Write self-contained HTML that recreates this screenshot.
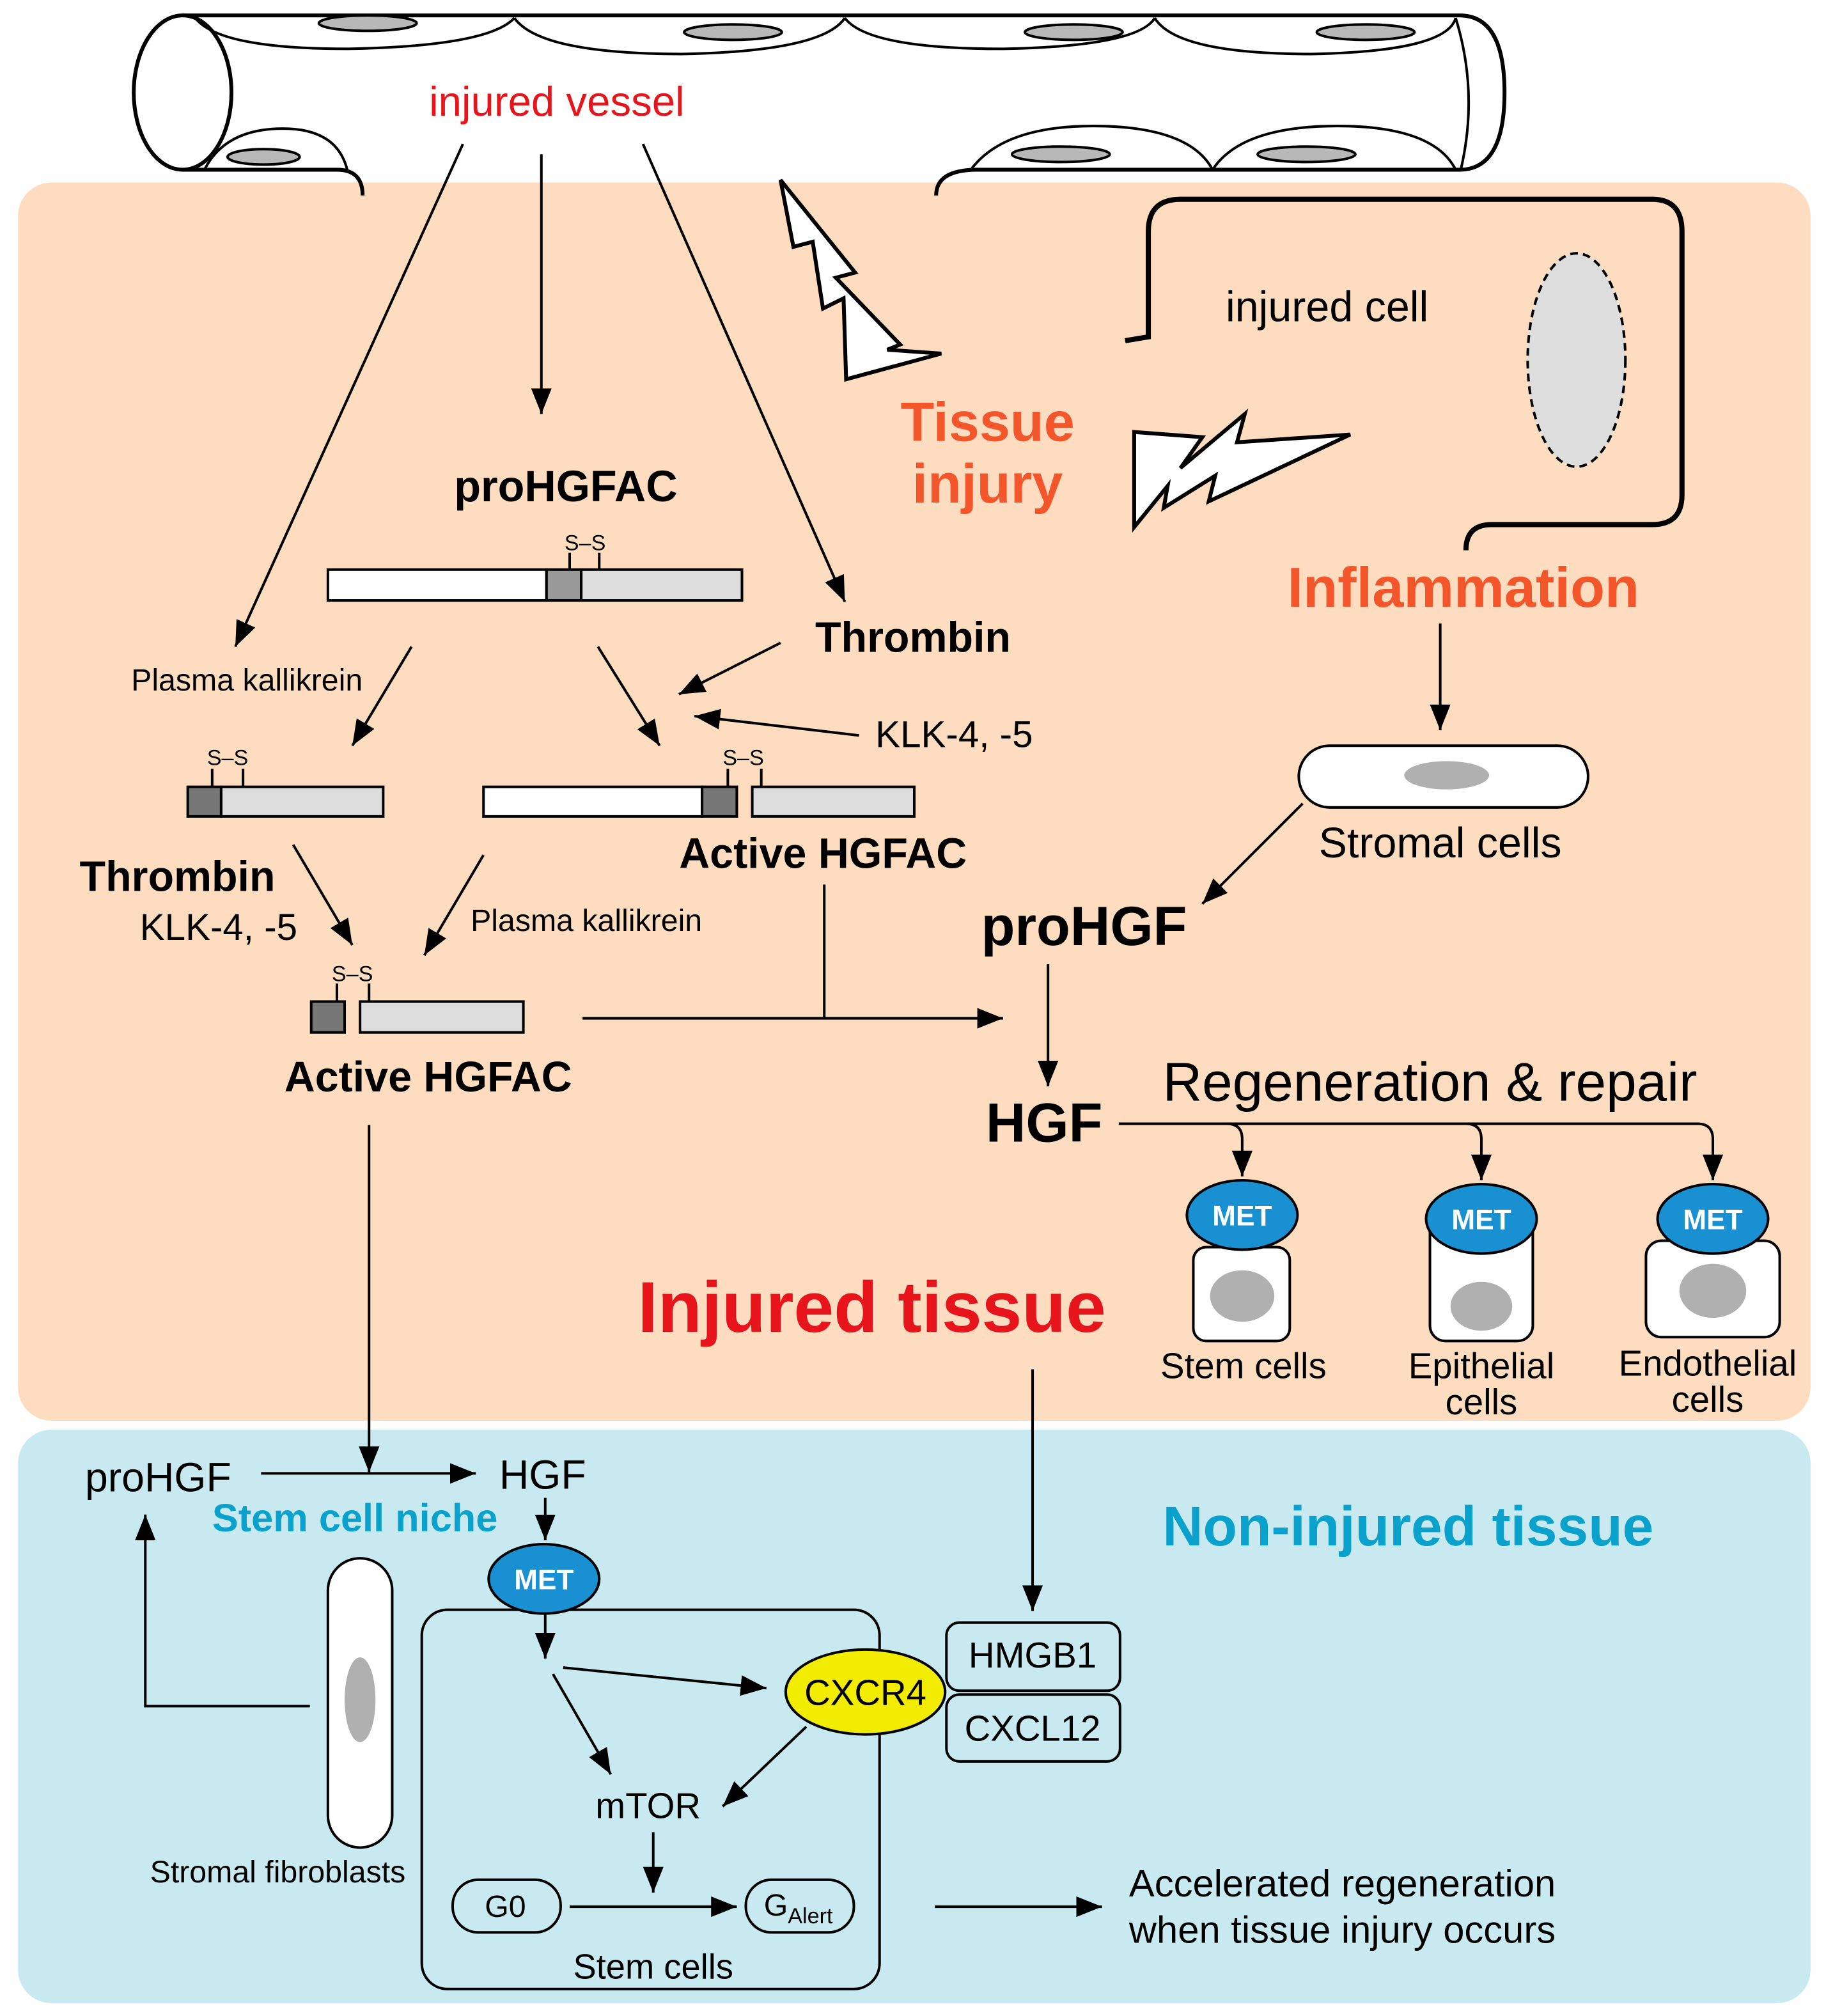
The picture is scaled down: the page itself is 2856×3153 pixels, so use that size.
<!DOCTYPE html>
<html><head><meta charset="utf-8"><style>
html,body{margin:0;padding:0;background:#fff}
svg{display:block}
text{font-family:"Liberation Sans",Arial,sans-serif}
</style></head><body>
<svg width="2856" height="3153" viewBox="0 0 1420 1568" preserveAspectRatio="none" xmlns="http://www.w3.org/2000/svg">
<defs>
<marker id="b" viewBox="0 0 10 10" refX="10" refY="5" markerWidth="20" markerHeight="20" markerUnits="userSpaceOnUse" orient="auto"><path d="M0,1 L10,5 L0,9 z" fill="#000"/></marker>
</defs>
<rect x="0" y="0" width="1420" height="1568" fill="#fff"/>
<rect x="14" y="142" width="1394" height="963" rx="26" fill="#fddcbf"/>
<rect x="14" y="1112" width="1394" height="446" rx="26" fill="#c9e9f1"/>

<!-- vessel -->
<path d="M142,12 L1135,12 Q1170,12 1170,72 Q1170,132 1135,132 L760,132 Q728,132 728,152" fill="none" stroke="#000" stroke-width="3"/>
<path d="M142,132 L262,132 Q282,132 282,152" fill="none" stroke="#000" stroke-width="3"/>
<path d="M1132,14 Q1150,72 1136,132" fill="none" stroke="#000" stroke-width="2"/>
<ellipse cx="142" cy="72" rx="38" ry="60" fill="#fff" stroke="#000" stroke-width="3"/>
<g fill="none" stroke="#000" stroke-width="2">
<path d="M152,14 Q170,38 270,38 Q380,36 400,14"/>
<path d="M400,14 Q420,42 530,42 Q640,40 657,14"/>
<path d="M657,14 Q675,38 780,38 Q885,36 898,14"/>
<path d="M898,14 Q915,42 1020,42 Q1125,40 1132,14"/>
<path d="M159,132 Q175,100 220,100 Q262,100 270,132"/>
<path d="M755,132 Q780,98 850,98 Q925,98 943,132"/>
<path d="M943,132 Q965,98 1040,98 Q1115,98 1132,132"/>
</g>
<g fill="#b8b8b8" stroke="#000" stroke-width="2">
<ellipse cx="286" cy="18" rx="38" ry="6"/>
<ellipse cx="570" cy="25" rx="38" ry="6"/>
<ellipse cx="835" cy="25" rx="38" ry="6"/>
<ellipse cx="1062" cy="25" rx="38" ry="6"/>
<ellipse cx="205" cy="122" rx="28" ry="6"/>
<ellipse cx="825" cy="120" rx="38" ry="6"/>
<ellipse cx="1016" cy="120" rx="38" ry="6"/>
</g>
<text x="433" y="90" font-size="32.5" fill="#e8141b" text-anchor="middle">injured vessel</text>

<!-- bolts -->
<polygon points="607,140 665,212 650,216 700,268 690,272 732,275 658,295 656,232 640,240 632,188 617,192" fill="#fff" stroke="#000" stroke-width="3"/>
<polygon points="882,410 882,336 935,340 918,364 968,322 962,344 1050,338 940,390 945,370 905,395 908,378" fill="#fff" stroke="#000" stroke-width="3"/>
<text x="768" y="343" font-size="43" font-weight="bold" fill="#f4562b" text-anchor="middle">Tissue</text>
<text x="768" y="391" font-size="43" font-weight="bold" fill="#f4562b" text-anchor="middle">injury</text>

<!-- injured cell -->
<path d="M875,265 L893,262 L893,180 Q893,155 918,155 L1285,155 Q1308,155 1308,180 L1308,385 Q1308,408 1285,408 L1160,408 Q1140,408 1140,428" fill="none" stroke="#000" stroke-width="4"/>
<ellipse cx="1226" cy="280" rx="38" ry="83" fill="#ddd" stroke="#000" stroke-width="2" stroke-dasharray="6,4"/>
<text x="1032" y="250" font-size="33" text-anchor="middle">injured cell</text>
<text x="1138" y="472" font-size="44" font-weight="bold" fill="#f4562b" text-anchor="middle">Inflammation</text>

<!-- proHGFAC -->
<text x="440" y="390" font-size="34" font-weight="bold" text-anchor="middle">proHGFAC</text>
<g stroke="#000" stroke-width="2">
<rect x="255" y="443" width="170" height="24" fill="#fff"/>
<rect x="425" y="443" width="27" height="24" fill="#999"/>
<rect x="452" y="443" width="125" height="24" fill="#ddd"/>
<line x1="443" y1="443" x2="443" y2="430"/><line x1="466" y1="443" x2="466" y2="430"/>
<rect x="146" y="612" width="26" height="23" fill="#777"/>
<rect x="172" y="612" width="126" height="23" fill="#ddd"/>
<line x1="165" y1="612" x2="165" y2="598"/><line x1="189" y1="612" x2="189" y2="598"/>
<rect x="376" y="612" width="170" height="23" fill="#fff"/>
<rect x="546" y="612" width="27" height="23" fill="#777"/>
<rect x="585" y="612" width="126" height="23" fill="#ddd"/>
<line x1="566" y1="612" x2="566" y2="598"/><line x1="592" y1="612" x2="592" y2="598"/>
<rect x="242" y="779" width="26" height="24" fill="#777"/>
<rect x="280" y="779" width="127" height="24" fill="#ddd"/>
<line x1="262" y1="779" x2="262" y2="765"/><line x1="287" y1="779" x2="287" y2="765"/>
</g>
<g font-size="17" text-anchor="middle"><text x="455" y="428">S–S</text><text x="177" y="595">S–S</text><text x="578" y="595">S–S</text><text x="274" y="763">S–S</text></g>

<text x="710" y="507" font-size="33" font-weight="bold" text-anchor="middle">Thrombin</text>
<text x="192" y="537" font-size="24" text-anchor="middle">Plasma kallikrein</text>
<text x="742" y="581" font-size="29" text-anchor="middle">KLK-4, -5</text>
<text x="640" y="675" font-size="33" font-weight="bold" text-anchor="middle">Active HGFAC</text>
<text x="138" y="693" font-size="33" font-weight="bold" text-anchor="middle">Thrombin</text>
<text x="170" y="731" font-size="29" text-anchor="middle">KLK-4, -5</text>
<text x="456" y="724" font-size="24" text-anchor="middle">Plasma kallikrein</text>
<text x="333" y="849" font-size="33" font-weight="bold" text-anchor="middle">Active HGFAC</text>

<text x="1120" y="667" font-size="33" text-anchor="middle">Stromal cells</text>
<rect x="1010" y="580" width="225" height="48" rx="24" fill="#fff" stroke="#000" stroke-width="2"/>
<ellipse cx="1125" cy="603" rx="33" ry="11" fill="#b0b0b0"/>
<text x="843" y="735" font-size="43" font-weight="bold" text-anchor="middle">proHGF</text>
<text x="812" y="888" font-size="43" font-weight="bold" text-anchor="middle">HGF</text>
<text x="1112" y="856" font-size="42.5" text-anchor="middle">Regeneration &amp; repair</text>
<text x="678" y="1036" font-size="56" font-weight="bold" fill="#e8141b" text-anchor="middle">Injured tissue</text>

<!-- arrows top -->
<g stroke="#000" stroke-width="2" fill="none">
<line x1="360" y1="112" x2="183" y2="503" marker-end="url(#b)"/>
<line x1="421" y1="120" x2="421" y2="322" marker-end="url(#b)"/>
<line x1="500" y1="112" x2="657" y2="468" marker-end="url(#b)"/>
<line x1="320" y1="503" x2="274" y2="580" marker-end="url(#b)"/>
<line x1="465" y1="503" x2="513" y2="580" marker-end="url(#b)"/>
<line x1="607" y1="500" x2="528" y2="540" marker-end="url(#b)"/>
<line x1="668" y1="572" x2="540" y2="557" marker-end="url(#b)"/>
<line x1="228" y1="657" x2="274" y2="735" marker-end="url(#b)"/>
<line x1="376" y1="665" x2="330" y2="743" marker-end="url(#b)"/>
<line x1="453" y1="792" x2="780" y2="792" marker-end="url(#b)"/>
<line x1="641" y1="688" x2="641" y2="792"/>
<line x1="1120" y1="485" x2="1120" y2="568" marker-end="url(#b)"/>
<line x1="1013" y1="625" x2="935" y2="703" marker-end="url(#b)"/>
<line x1="815" y1="750" x2="815" y2="845" marker-end="url(#b)"/>
<path d="M870,874 L1320,874 Q1332,874 1332,886 L1332,918" marker-end="url(#b)"/>
<path d="M954,874 Q966,874 966,886 L966,915" marker-end="url(#b)"/>
<path d="M1140,874 Q1152,874 1152,886 L1152,918" marker-end="url(#b)"/>
<line x1="287" y1="875" x2="287" y2="1145" marker-end="url(#b)"/>
<line x1="803" y1="1065" x2="803" y2="1253" marker-end="url(#b)"/>
</g>

<!-- cells with MET -->
<g stroke="#000" stroke-width="2">
<rect x="928" y="970" width="75" height="73" rx="10" fill="#fff"/>
<ellipse cx="966" cy="1008" rx="25" ry="20" fill="#b0b0b0" stroke="none"/>
<rect x="1112" y="945" width="80" height="98" rx="12" fill="#fff"/>
<ellipse cx="1152" cy="1016" rx="24" ry="19" fill="#b0b0b0" stroke="none"/>
<rect x="1280" y="965" width="104" height="75" rx="12" fill="#fff"/>
<ellipse cx="1332" cy="1004" rx="26" ry="21" fill="#b0b0b0" stroke="none"/>
<ellipse cx="966" cy="945" rx="43" ry="27" fill="#1890d2"/>
<ellipse cx="1152" cy="948" rx="43" ry="27" fill="#1890d2"/>
<ellipse cx="1332" cy="948" rx="43" ry="27" fill="#1890d2"/>
</g>
<g font-size="22" font-weight="bold" fill="#fff" text-anchor="middle"><text x="966" y="953">MET</text><text x="1152" y="956">MET</text><text x="1332" y="956">MET</text></g>
<g font-size="28" text-anchor="middle"><text x="967" y="1072">Stem cells</text><text x="1152" y="1072">Epithelial</text><text x="1152" y="1100">cells</text><text x="1328" y="1070">Endothelial</text><text x="1328" y="1098">cells</text></g>

<!-- lower -->
<text x="1095" y="1202" font-size="43.5" font-weight="bold" fill="#0aa2cc" text-anchor="middle">Non-injured tissue</text>
<text x="123" y="1160" font-size="32" text-anchor="middle">proHGF</text>
<text x="422" y="1158" font-size="32" text-anchor="middle">HGF</text>
<text x="276" y="1191" font-size="30.5" font-weight="bold" fill="#0aa2cc" text-anchor="middle">Stem cell niche</text>
<rect x="328" y="1252" width="356" height="295" rx="20" fill="none" stroke="#000" stroke-width="2"/>
<rect x="255" y="1212" width="50" height="225" rx="25" fill="#fff" stroke="#000" stroke-width="2"/>
<ellipse cx="280" cy="1322" rx="12" ry="33" fill="#b0b0b0"/>
<text x="216" y="1464" font-size="24" text-anchor="middle">Stromal fibroblasts</text>
<ellipse cx="423" cy="1228" rx="43" ry="27" fill="#1890d2" stroke="#000" stroke-width="2"/>
<text x="423" y="1236" font-size="22" font-weight="bold" fill="#fff" text-anchor="middle">MET</text>
<ellipse cx="673" cy="1316" rx="62" ry="33" fill="#f2ec00" stroke="#000" stroke-width="2"/>
<text x="673" y="1326" font-size="28" text-anchor="middle">CXCR4</text>
<rect x="736" y="1262" width="135" height="53" rx="10" fill="none" stroke="#000" stroke-width="2"/>
<rect x="736" y="1318" width="135" height="52" rx="10" fill="none" stroke="#000" stroke-width="2"/>
<text x="803" y="1297" font-size="28" text-anchor="middle">HMGB1</text>
<text x="803" y="1354" font-size="28" text-anchor="middle">CXCL12</text>
<text x="504" y="1414" font-size="28" text-anchor="middle">mTOR</text>
<rect x="352" y="1462" width="84" height="41" rx="20" fill="none" stroke="#000" stroke-width="2"/>
<rect x="580" y="1462" width="84" height="41" rx="20" fill="none" stroke="#000" stroke-width="2"/>
<text x="393" y="1491" font-size="24" text-anchor="middle">G0</text>
<text x="594" y="1490" font-size="24">G<tspan font-size="17" dy="6">Alert</tspan></text>
<text x="508" y="1539" font-size="27" text-anchor="middle">Stem cells</text>
<text x="878" y="1475" font-size="29.7">Accelerated regeneration</text>
<text x="878" y="1511" font-size="29.7">when tissue injury occurs</text>
<g stroke="#000" stroke-width="2" fill="none">
<line x1="203" y1="1146" x2="370" y2="1146" marker-end="url(#b)"/>
<line x1="424" y1="1165" x2="424" y2="1198" marker-end="url(#b)"/>
<path d="M241,1327 L113,1327 L113,1178" marker-end="url(#b)"/>
<line x1="424" y1="1255" x2="424" y2="1290" marker-end="url(#b)"/>
<line x1="438" y1="1297" x2="596" y2="1313" marker-end="url(#b)"/>
<line x1="430" y1="1302" x2="475" y2="1380" marker-end="url(#b)"/>
<line x1="627" y1="1343" x2="562" y2="1405" marker-end="url(#b)"/>
<line x1="508" y1="1425" x2="508" y2="1472" marker-end="url(#b)"/>
<line x1="443" y1="1483" x2="573" y2="1483" marker-end="url(#b)"/>
<line x1="727" y1="1483" x2="857" y2="1483" marker-end="url(#b)"/>
</g>
</svg>
</body></html>
